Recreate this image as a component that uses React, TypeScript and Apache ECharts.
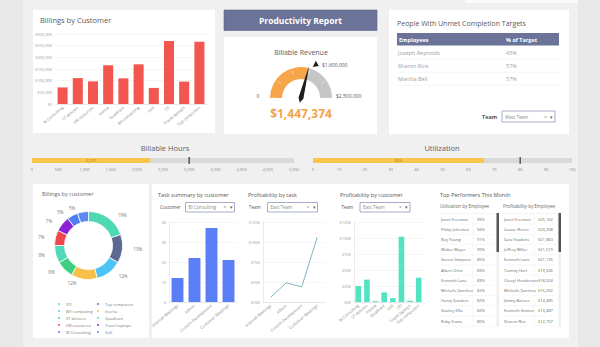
import React, { useEffect, useRef } from 'react';
import * as echarts from 'echarts';

const FONT = '"Open Sans", "Noto Sans", sans-serif';

// ---- Billings by Customer (top bar chart)
const billingCustomers = ['BI Consulting', 'ST delivers', 'HR resources', 'Inertia', 'Quadrant', 'BH computing', 'Soft', 'STI', 'Travel laptops', 'Top computers'];
const billingValues = [71000, 111000, 97000, 166000, 110000, 170000, 69000, 270000, 96000, 267000];

// ---- Billable revenue gauge
const revenueValue = 1447374;
const revenueMax = 2500000;
const revenueTarget = 1600000;

// ---- People with unmet targets
const unmetEmployees = ['Joseph Reynolds', 'Sharon Rice', 'Martha Bell'];
const unmetPct = ['45%', '57%', '57%'];

// ---- Bullet charts
const hoursValue = 2257;
const hoursTarget = 3000;
const hoursMax = 5000;
const utilValue = 66;
const utilTarget = 80;
const utilMax = 100;

// ---- Pie
const pieNames = ['STI', 'Top computers', 'BH computing', 'Inertia', 'ST delivers', 'Quadrant', 'HR resources', 'Travel laptops', 'BI Consulting', 'Soft'];
const pieValues = [19, 13, 12, 12, 8, 8, 7, 7, 5, 5];
const pieColors = ['#4fd8b4', '#5c6a93', '#4ec3f5', '#f7c049', '#40cf82', '#52d9b9', '#f1474b', '#8c20d5', '#4f7ef2', '#5b88f3'];

// ---- Task summary
const tasks = ['Internal Meetings', 'Admin', 'Custom Development', 'Customer Meetings'];
const taskHours = [12, 22, 37, 21];
const taskProfitK = [31, 49, 44, 106];

// ---- Profitability by customer
const profitCustomers = ['BI Consulting', 'ST delivers', 'Inertia', 'Quadrant', 'Soft', 'STI', 'Travel laptops', 'Top computers'];
const profitCustomerK = [25, 35, 1.5, 15, 6, 102, 2, 38];

// ---- Top performers
const utilEmployees = ['Janet Freeman', 'Philip Johnston', 'Roy Young', 'Walter Mayer', 'Steven Simpson', 'Albert Ortiz', 'Kenneth Lane', 'Michelle Sanchez', 'Henry Sanders', 'Stanley Ellis', 'Ruby Evans'];
const utilEmployeePct = ['99%', '94%', '91%', '90%', '85%', '83%', '83%', '82%', '82%', '82%', '80%'];
const profitEmployees = ['Janet Freeman', 'Louise Rivera', 'Sara Hawkins', 'Jeffrey Miller', 'Kenneth Lane', 'Tammy Hart', 'Cheryl Henderson', 'Michelle Sanchez', 'Jimmy Barnes', 'Kenneth Gomez', 'Sharon Rice'];
const profitEmployeeValues = ['$25,102', '$23,208', '$21,860', '$21,519', '$21,135', '$19,246', '$18,024', '$15,292', '$14,485', '$13,487', '$12,737'];

const rect = (x: number, y: number, w: number, h: number, fill: string, extra: any = {}, z = -5) => ({
  type: 'rect', shape: { x, y, width: w, height: h }, style: { fill, ...extra }, z, silent: true,
});
const text = (x: number, y: number, t: string, size: number, color: string, align = 'left', weight: any = 'normal') => ({
  type: 'text', x, y, z: 50, silent: true,
  style: {
    text: t, fontSize: size, fill: color, fontFamily: FONT, fontWeight: weight,
    textAlign: align, align, textVerticalAlign: 'middle', verticalAlign: 'middle',
  },
});
const hline = (x1: number, x2: number, y: number, color: string, w = 0.5) => ({
  type: 'line', shape: { x1, y1: y, x2, y2: y }, style: { stroke: color, lineWidth: w }, z: -4, silent: true,
});
const vline = (x: number, y1: number, y2: number, color: string, w = 0.5) => ({
  type: 'line', shape: { x1: x, y1, x2: x, y2 }, style: { stroke: color, lineWidth: w }, z: -4, silent: true,
});
const dropdown = (x: number, y: number, w: number, h: number, label: string) => [
  rect(x, y, w, h, '#ffffff', { stroke: '#8f97bd', lineWidth: 0.8 }, 1),
  text(x + 3, y + h / 2, label, 4.5, '#8a8a8a'),
  text(x + w - 11, y + h / 2, '×', 5, '#888'),
  text(x + w - 5, y + h / 2, '▾', 5, '#666'),
];

function buildGraphic() {
  const g: any[] = [];
  // frame
  g.push(rect(23, 0, 555, 347, '#f0f0f0', {}, -9));
  g.push(rect(465, 0, 113, 3, '#fbfbfb', {}, -8));
  // panels
  g.push(rect(33, 10, 182, 123, '#ffffff'));
  g.push(rect(224, 10, 153, 20.5, '#6b7399', { stroke: '#5e6689', lineWidth: 0.6 }));
  g.push(rect(224, 37, 153, 97, '#ffffff'));
  g.push(rect(389, 10, 180, 124, '#ffffff'));
  g.push(rect(33, 184, 116, 154, '#ffffff'));
  g.push(rect(152, 184, 417, 154, '#ffffff'));

  // titles
  g.push(text(40, 20, 'Billings by Customer', 7.5, '#5a5a5a'));
  g.push(text(300.5, 20.5, 'Productivity Report', 8.5, '#ffffff', 'center', 'bold'));
  g.push(text(301, 52, 'Billable Revenue', 7, '#5a5a5a', 'center'));
  g.push(text(397, 23, 'People With Unmet Completion Targets', 7, '#5a5a5a'));
  g.push(text(165, 147.5, 'Billable Hours', 7.5, '#5f5f5f', 'center'));
  g.push(text(442, 147.5, 'Utilization', 7.5, '#5f5f5f', 'center'));
  g.push(text(42, 194, 'Billings by customer', 5.5, '#666'));
  g.push(text(158, 195, 'Task summary by customer', 5.5, '#555'));
  g.push(text(248, 195, 'Profitability by task', 5.5, '#555'));
  g.push(text(340, 195, 'Profitability by customer', 5.5, '#555'));
  g.push(text(440, 195, 'Top Performers This Month', 5.5, '#555'));

  // gauge labels
  g.push(text(258, 95.5, '0', 5, '#555', 'center'));
  g.push(text(336, 95.5, '$2,500,000', 5, '#555'));
  g.push(text(322, 64.5, '$' + revenueTarget.toLocaleString('en-US'), 5, '#555'));

  // unmet table
  g.push(rect(397, 33, 162, 12.5, '#6b7399', {}, 1));
  g.push(vline(502.5, 33, 45.5, '#8e96b8', 0.6));
  g.push(text(399, 39.5, 'Employees', 5.5, '#ffffff', 'left', 'bold'));
  g.push(text(506, 39.5, '% of Target', 5.5, '#ffffff', 'left', 'bold'));
  unmetEmployees.forEach((n, i) => {
    const y = 52.7 + i * 13;
    g.push(text(398, y, n, 5.5, '#a0a0a0'));
    g.push(text(506, y, unmetPct[i], 5.5, '#a0a0a0'));
    g.push(hline(397, 559, y + 6.5, '#efefef', 0.6));
  });
  g.push(text(482, 116.5, 'Team', 5.5, '#555', 'left', 'bold'));
  g.push(...dropdown(502, 111, 53, 11, 'West Team'));

  // dropdowns bottom
  g.push(text(160, 207, 'Customer', 4.5, '#555'));
  g.push(...dropdown(185.5, 202.5, 49, 9.5, 'BI Consulting'));
  g.push(text(249, 207, 'Team', 4.5, '#555'));
  g.push(...dropdown(267.5, 202.5, 50, 9.5, 'East Team'));
  g.push(text(341.5, 207, 'Team', 4.5, '#555'));
  g.push(...dropdown(360, 202.5, 50, 9.5, 'East Team'));

  // top performers tables
  const table = (x0: number, valX: number, right: number, sbX: number, header: string, names: string[], vals: string[]) => {
    g.push(text(x0, 206, header, 4.5, '#666'));
    names.forEach((n, i) => {
      const y = 219 + i * 10.2;
      g.push(text(x0 + 1, y, n, 4, '#666'));
      g.push(text(valX, y, vals[i], 4, '#666'));
      g.push(hline(x0, right, y + 5.1, '#eeeeee', 0.5));
    });
    g.push(hline(x0, right, 213.5, '#e6e6e6', 0.5));
    g.push(vline(valX - 4, 213.5, 327, '#eeeeee', 0.5));
    g.push(rect(sbX, 213, 2.5, 114, '#eeeeee', {}, 1));
    g.push(rect(sbX, 213, 2.5, 39, '#555555', {}, 2));
  };
  table(440, 477, 495, 496.5, 'Utilization by Employee', utilEmployees, utilEmployeePct);
  table(503, 538, 556, 558.5, 'Profitability by Employee', profitEmployees, profitEmployeeValues);
  return g;
}

const axisLbl = { fontSize: 4, color: '#999', fontFamily: FONT };
const catAxis = (gridIndex: number, data: string[], rotate: number) => ({
  gridIndex, type: 'category', data,
  axisLine: { show: true, lineStyle: { color: '#dddddd', width: 0.6 } },
  axisTick: { show: false },
  axisLabel: { ...axisLbl, color: '#888', rotate, interval: 0, margin: 3 },
});
const valAxis = (gridIndex: number, min: number, max: number, interval: number, fmt: (v: number) => string, showLine: boolean) => ({
  gridIndex, type: 'value', min, max, interval,
  axisLine: { show: showLine, lineStyle: { color: '#dddddd', width: 0.6 } },
  axisTick: { show: false },
  splitLine: { lineStyle: { color: '#eeeeee', width: 0.6 } },
  axisLabel: { ...axisLbl, margin: 3, formatter: fmt },
});
const bulletX = (gridIndex: number, max: number, interval: number) => ({
  gridIndex, type: 'value', min: 0, max, interval,
  axisLine: { show: false }, axisTick: { show: false }, splitLine: { show: false },
  axisLabel: { ...axisLbl, color: '#888', margin: 4, formatter: (v: number) => v.toLocaleString('en-US') },
});
const bulletY = (gridIndex: number) => ({ gridIndex, type: 'category', data: ['v'], show: false });
const bulletSeries = (idx: number, max: number, value: number, target: number, label: string) => [
  { type: 'bar', xAxisIndex: idx, yAxisIndex: idx, data: [max], barWidth: 5, barGap: '-100%', itemStyle: { color: '#d9d9d9' }, silent: true, z: 2 },
  {
    type: 'bar', xAxisIndex: idx, yAxisIndex: idx, data: [value], barWidth: 5, barGap: '-100%', itemStyle: { color: '#f7c64b' }, z: 3,
    label: { show: true, position: 'inside', fontSize: 4, color: '#9c7a1d', fontFamily: FONT, formatter: () => label },
  },
  { type: 'scatter', xAxisIndex: idx, yAxisIndex: idx, data: [[target, 0]], symbol: 'rect', symbolSize: [1.5, 7], itemStyle: { color: '#333' }, z: 5 },
];

function buildOption(): any {
  const leftNames = pieNames.filter((_, i) => i % 2 === 0);
  const rightNames = pieNames.filter((_, i) => i % 2 === 1);
  const legendBase = {
    orient: 'vertical', top: 301, itemWidth: 4, itemHeight: 4, itemGap: 1, icon: 'circle', padding: 0,
    selectedMode: false, textStyle: { fontSize: 4, color: '#777', fontFamily: FONT },
  };
  return {
    animation: false,
    backgroundColor: '#e8e8e8',
    textStyle: { fontFamily: FONT },
    graphic: { elements: buildGraphic() },
    legend: [
      { ...legendBase, left: 56, data: leftNames },
      { ...legendBase, left: 95, data: rightNames },
    ],
    grid: [
      { left: 55, top: 34, width: 152, height: 70 },
      { left: 32, top: 158, width: 262, height: 5 },
      { left: 313, top: 158, width: 259, height: 5 },
      { left: 169, top: 222, width: 68, height: 80 },
      { left: 263, top: 222, width: 62, height: 80 },
      { left: 354, top: 222, width: 69, height: 80 },
    ],
    xAxis: [
      catAxis(0, billingCustomers, 40),
      bulletX(1, hoursMax, 500),
      bulletX(2, utilMax, 10),
      catAxis(3, tasks, 40),
      catAxis(4, tasks, 40),
      catAxis(5, profitCustomers, 40),
    ],
    yAxis: [
      valAxis(0, 0, 300000, 50000, (v) => '$' + v.toLocaleString('en-US'), false),
      bulletY(1),
      bulletY(2),
      valAxis(3, 0, 40, 10, (v) => String(v), true),
      valAxis(4, 25, 125, 25, (v) => '$' + v + 'K', true),
      valAxis(5, 0, 125, 25, (v) => '$' + v + 'K', true),
    ],
    series: [
      { type: 'bar', xAxisIndex: 0, yAxisIndex: 0, data: billingValues, barWidth: '66%', itemStyle: { color: '#f2564f' } },
      ...bulletSeries(1, hoursMax, hoursValue, hoursTarget, hoursValue.toLocaleString('en-US')),
      ...bulletSeries(2, utilMax, utilValue, utilTarget, utilValue + '%'),
      { type: 'bar', xAxisIndex: 3, yAxisIndex: 3, data: taskHours, barWidth: '70%', itemStyle: { color: '#5a7ef5' } },
      { type: 'line', xAxisIndex: 4, yAxisIndex: 4, data: taskProfitK, symbol: 'none', lineStyle: { color: '#80b5c3', width: 1 } },
      { type: 'bar', xAxisIndex: 5, yAxisIndex: 5, data: profitCustomerK, barWidth: '65%', itemStyle: { color: '#52e3c3' } },
      {
        type: 'pie', center: [88.5, 245.5], radius: [24, 34], startAngle: 90, avoidLabelOverlap: false,
        data: pieNames.map((n, i) => ({ name: n, value: pieValues[i], itemStyle: { color: pieColors[i] } })),
        itemStyle: { borderColor: '#ffffff', borderWidth: 0.8 },
        label: { show: true, position: 'outside', formatter: '{c}%', fontSize: 4.5, color: '#777', fontFamily: FONT },
        labelLine: { show: false, length: 4, length2: 2 },
      },
      {
        type: 'gauge', center: [301, 98], radius: 31, startAngle: 180, endAngle: 0, min: 0, max: revenueMax, splitNumber: 5,
        axisLine: { lineStyle: { width: 12, color: [[revenueValue / revenueMax, '#f6a54a'], [1, '#c6c6c6']] } },
        splitLine: { show: true, length: 4, distance: -10, lineStyle: { color: 'rgba(255,255,255,0.75)', width: 0.6 } },
        axisTick: { show: false }, axisLabel: { show: false },
        pointer: { show: true, length: '108%', width: 2.5, itemStyle: { color: '#1e1e1e' } },
        anchor: { show: true, size: 4, itemStyle: { color: '#1e1e1e' } },
        title: { show: false },
        detail: {
          show: true, offsetCenter: [0, 15], fontSize: 12, fontWeight: 'bold', color: '#f5a34b', fontFamily: FONT,
          formatter: (v: number) => '$' + Math.round(v).toLocaleString('en-US'),
        },
        data: [{ value: revenueValue }],
      },
      {
        type: 'gauge', center: [301, 98], radius: 31, startAngle: 180, endAngle: 0, min: 0, max: revenueMax,
        axisLine: { show: false }, splitLine: { show: false }, axisTick: { show: false }, axisLabel: { show: false },
        pointer: { show: true, icon: 'path://M0,0L7,3.5L0,7Z M3.5,40L3.5,40.01', length: 40, width: 5, itemStyle: { color: '#1e1e1e' } },
        anchor: { show: false }, title: { show: false }, detail: { show: false },
        data: [{ value: revenueTarget }],
      },
    ],
  };
}

export default function App() {
  const ref = useRef<HTMLDivElement>(null);
  useEffect(() => {
    const chart = echarts.init(ref.current!, null, { renderer: 'svg' });
    chart.setOption(buildOption());
    return () => chart.dispose();
  }, []);
  return <div ref={ref} style={{ position: 'fixed', left: 0, top: 0, width: 600, height: 347 }} />;
}
